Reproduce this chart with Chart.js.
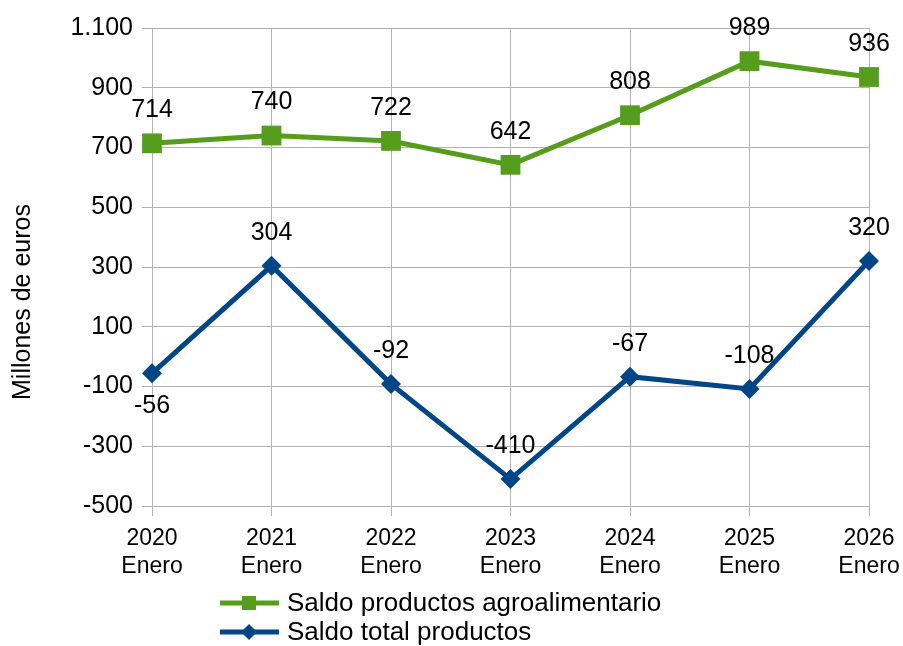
<!DOCTYPE html>
<html>
<head>
<meta charset="utf-8">
<script src="https://cdn.jsdelivr.net/npm/chart.js@4.4.1/dist/chart.umd.min.js"></script>
<style>
html,body{margin:0;padding:0;background:#fff;}
#wrap{width:903px;height:646px;position:relative;}
</style>
</head>
<body>
<div id="wrap"><canvas id="c" width="903" height="646"></canvas></div>
<script>
const categories = [["2020","Enero"],["2021","Enero"],["2022","Enero"],["2023","Enero"],["2024","Enero"],["2025","Enero"],["2026","Enero"]];
const seriesNames = ["Saldo productos agroalimentario","Saldo total productos"];
const agroValues = [714, 740, 722, 642, 808, 989, 936];
const totalValues = [-56, 304, -92, -410, -67, -108, 320];
const totalLabelSide = ["below","above","above","above","above","above","above"];
const yTickValues = [-500, -300, -100, 100, 300, 500, 700, 900, 1100];
const yAxisTitle = "Millones de euros";

const GREEN = "#579d1c";
const BLUE = "#004586";
const GRID = "#b3b3b3";
const FONT = "'Liberation Sans', Arial, sans-serif";

function fmt(v){
  const s = Math.abs(v).toString().replace(/\B(?=(\d{3})+(?!\d))/g, ".");
  return (v < 0 ? "-" : "") + s;
}

const valueLabels = {
  id: "valueLabels",
  afterDatasetsDraw(chart){
    const ctx = chart.ctx;
    ctx.save();
    ctx.font = "25px " + FONT;
    ctx.fillStyle = "#000";
    ctx.textAlign = "center";
    ctx.textBaseline = "middle";
    chart.data.datasets.forEach((ds, di) => {
      const meta = chart.getDatasetMeta(di);
      meta.data.forEach((pt, i) => {
        let side = "above";
        if (di === 1) side = totalLabelSide[i];
        const dy = side === "above" ? -33 : 33;
        ctx.fillText(fmt(ds.data[i]), pt.x, pt.y + dy);
      });
    });
    ctx.restore();
  }
};

const extras = {
  id: "extras",
  afterDraw(chart){
    const ctx = chart.ctx;
    ctx.save();
    // y axis title
    ctx.translate(23, 302);
    ctx.rotate(-Math.PI / 2);
    ctx.fillStyle = "#000";
    ctx.font = "25px " + FONT;
    ctx.textAlign = "center";
    ctx.textBaseline = "middle";
    ctx.fillText(yAxisTitle, 0, 0);
    ctx.restore();

    ctx.save();
    const rows = [
      {name: seriesNames[0], color: GREEN, style: "rect", y: 603},
      {name: seriesNames[1], color: BLUE, style: "diamond", y: 632}
    ];
    rows.forEach(r => {
      ctx.strokeStyle = r.color;
      ctx.lineWidth = 5;
      ctx.beginPath();
      ctx.moveTo(220, r.y);
      ctx.lineTo(279, r.y);
      ctx.stroke();
      ctx.fillStyle = r.color;
      if (r.style === "rect") {
        ctx.fillRect(249 - 7, r.y - 7, 14, 14);
      } else {
        ctx.beginPath();
        ctx.moveTo(249, r.y - 8);
        ctx.lineTo(257, r.y);
        ctx.lineTo(249, r.y + 8);
        ctx.lineTo(241, r.y);
        ctx.closePath();
        ctx.fill();
      }
      ctx.fillStyle = "#000";
      ctx.font = "26px " + FONT;
      ctx.textAlign = "left";
      ctx.textBaseline = "middle";
      ctx.fillText(r.name, 287, r.y + 1);
    });
    ctx.restore();
  }
};

new Chart(document.getElementById("c"), {
  type: "line",
  data: {
    labels: categories,
    datasets: [
      {
        label: seriesNames[0],
        data: agroValues,
        borderColor: GREEN,
        backgroundColor: GREEN,
        borderWidth: 5,
        pointStyle: "rect",
        pointRadius: 14,
        pointHoverRadius: 14,
        pointBorderWidth: 0,
        tension: 0
      },
      {
        label: seriesNames[1],
        data: totalValues,
        borderColor: BLUE,
        backgroundColor: BLUE,
        borderWidth: 5,
        pointStyle: "rectRot",
        pointRadius: 10,
        pointHoverRadius: 10,
        pointBorderWidth: 0,
        tension: 0
      }
    ]
  },
  options: {
    responsive: false,
    animation: false,
    events: [],
    layout: { padding: { top: 28, right: 34, bottom: 60, left: 0 } },
    plugins: {
      legend: { display: false },
      tooltip: { enabled: false }
    },
    scales: {
      x: {
        type: "category",
        offset: false,
        grid: { color: GRID, lineWidth: 1, tickLength: 10, drawTicks: true, offset: false },
        border: { color: GRID, width: 1 },
        ticks: {
          color: "#000",
          font: { family: FONT, size: 23, lineHeight: 1.22 },
          padding: 9,
          maxRotation: 0,
          autoSkip: false
        },
        afterFit(scale){ scale.height = 80; scale.paddingRight = 0; scale.paddingLeft = 0; }
      },
      y: {
        min: -500,
        max: 1100,
        afterBuildTicks(scale){ scale.ticks = yTickValues.map(v => ({value: v})); },
        grid: { color: GRID, lineWidth: 1, tickLength: 10 },
        border: { color: GRID, width: 1 },
        ticks: {
          color: "#000",
          font: { family: FONT, size: 25 },
          padding: 9,
          callback: (v) => fmt(v)
        },
        title: { display: false },
        afterFit(scale){ scale.width = 152; scale.paddingTop = 0; scale.paddingBottom = 0; }
      }
    }
  },
  plugins: [valueLabels, extras]
});
</script>
</body>
</html>
